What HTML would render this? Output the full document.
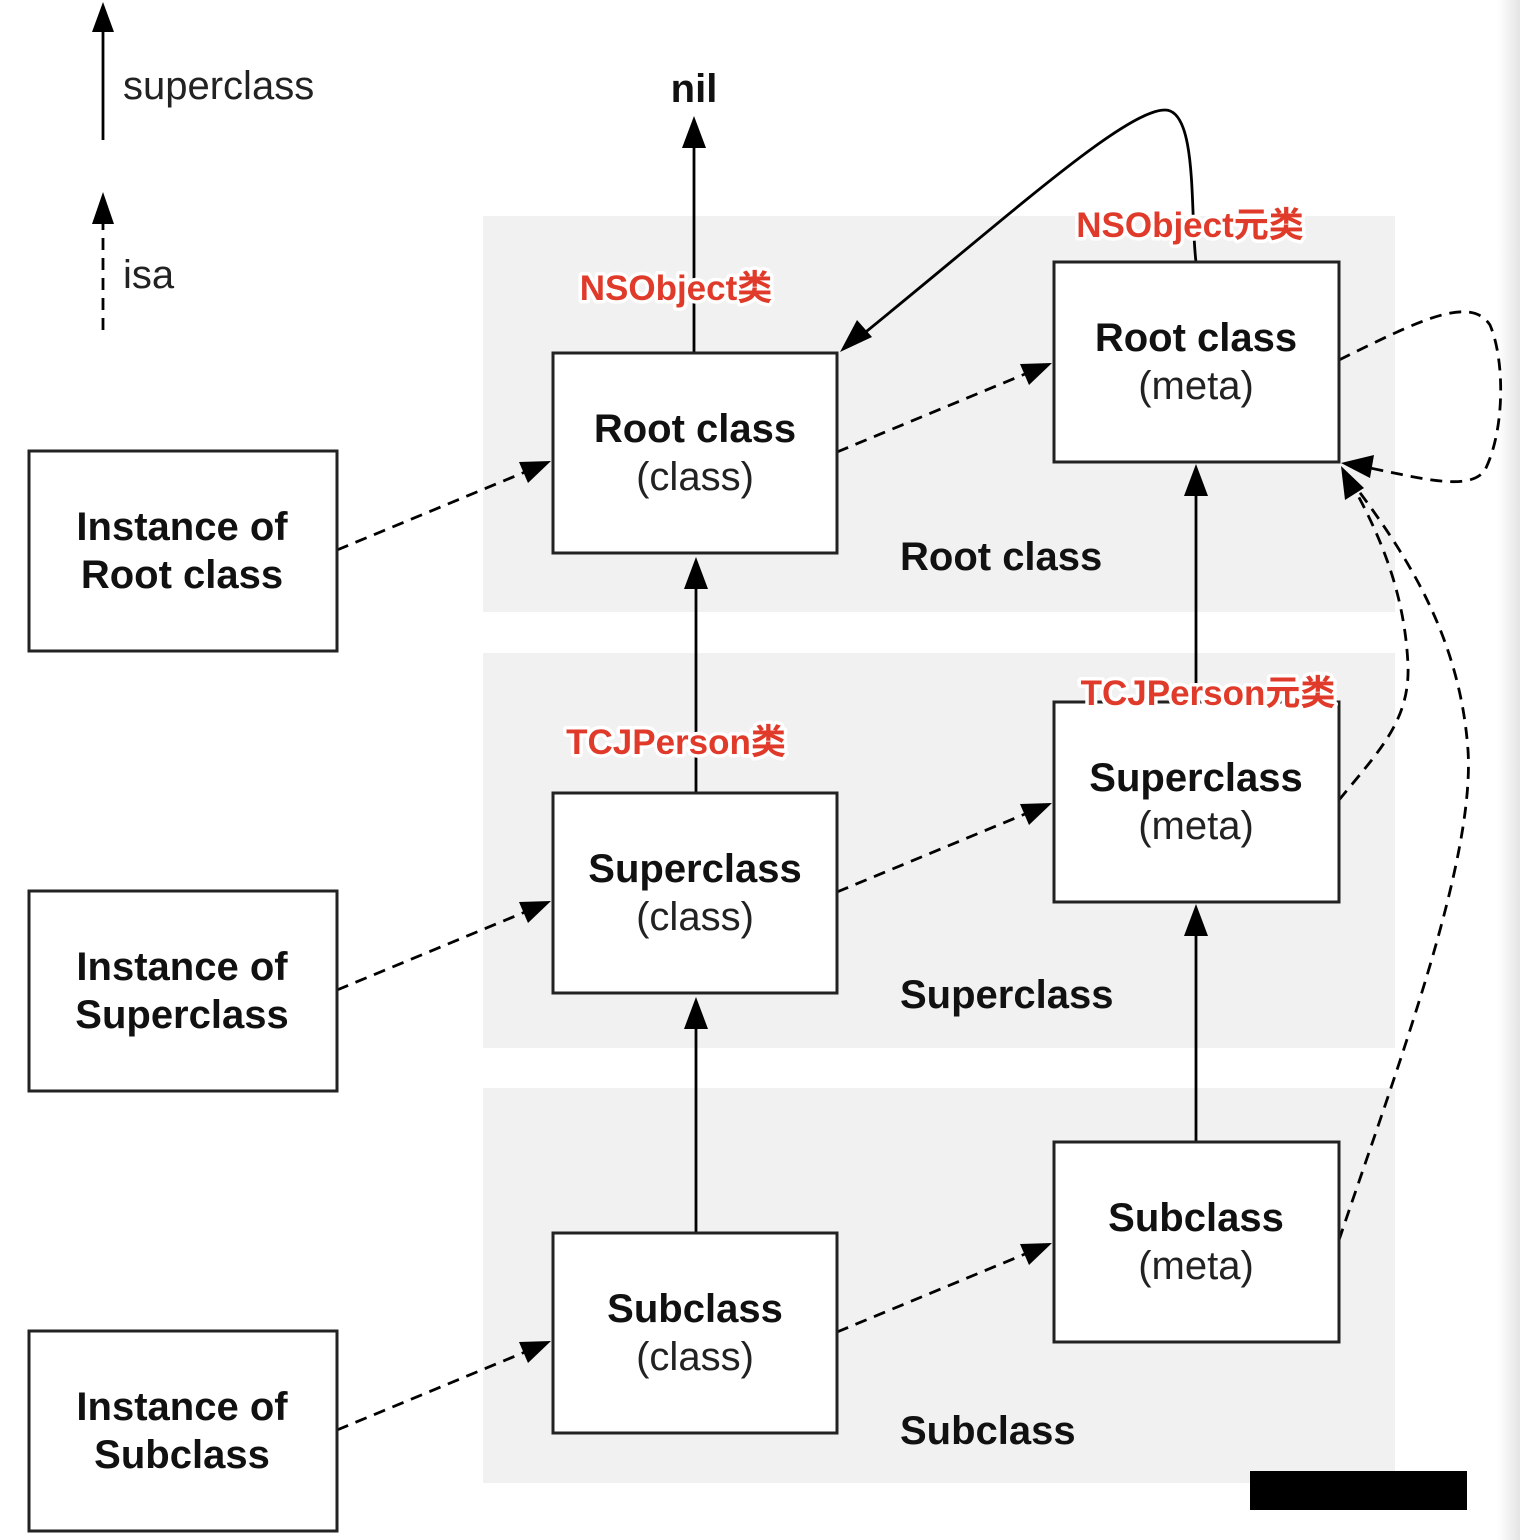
<!DOCTYPE html>
<html><head><meta charset="utf-8"><style>
html,body{margin:0;padding:0;background:#fff}
svg{display:block}
.t{font-family:"Liberation Sans",Arial,sans-serif;font-weight:bold;font-size:40px;fill:#111}
.s{font-family:"Liberation Sans",Arial,sans-serif;font-size:40px;fill:#222}
.r{font-family:"Liberation Sans","Noto Sans CJK SC",sans-serif;font-weight:bold;font-size:35px;fill:#e03a2a;stroke:#fff;stroke-width:7px;paint-order:stroke;stroke-linejoin:round}
</style></head><body>
<svg width="1520" height="1540" viewBox="0 0 1520 1540" xmlns="http://www.w3.org/2000/svg">
<defs>
<linearGradient id="sh" x1="0" x2="1"><stop offset="0" stop-color="#fff"/><stop offset="1" stop-color="#e4e4e4"/></linearGradient>
</defs>
<rect x="1498" y="0" width="22" height="1540" fill="url(#sh)"/>
<rect x="483" y="216" width="912" height="396" fill="#f1f1f1"/>
<rect x="483" y="653" width="912" height="395" fill="#f1f1f1"/>
<rect x="483" y="1088" width="912" height="395" fill="#f1f1f1"/>
<g stroke="#000" stroke-width="2.8" fill="none">
<line x1="103" y1="140" x2="103" y2="12"/>
<line x1="103" y1="330" x2="103" y2="220" stroke-dasharray="12,8"/>
<line x1="694" y1="353" x2="694" y2="145"/>
<line x1="696" y1="793" x2="696" y2="585"/>
<line x1="696" y1="1233" x2="696" y2="1025"/>
<line x1="1196" y1="702" x2="1196" y2="493"/>
<line x1="1196" y1="1142" x2="1196" y2="933"/>
<path d="M1196,262 C1190,215 1198,110 1165,110 C1125,110 1010,215 862,335"/>
<g stroke-dasharray="12,8">
<line x1="337" y1="550" x2="525" y2="472"/>
<line x1="337" y1="990" x2="525" y2="912"/>
<line x1="337" y1="1430" x2="525" y2="1352"/>
<line x1="837" y1="452" x2="1025" y2="374"/>
<line x1="837" y1="892" x2="1025" y2="814"/>
<line x1="837" y1="1332" x2="1025" y2="1254"/>
<path d="M1339,360 C1420,320 1470,295 1490,325 C1505,360 1505,430 1485,470 C1470,492 1420,478 1370,468"/>
<path d="M1339,800 C1380,750 1410,720 1408,665 C1405,600 1385,545 1355,490"/>
<path d="M1339,1240 C1400,1060 1475,860 1468,750 C1460,640 1410,560 1358,490"/>
</g>
</g>
<g fill="#000">
<path d="M103,2 L92,32 L114,32 z"/>
<path d="M103,192 L92,224 L114,224 z"/>
<path d="M694,116 L682,148 L706,148 z"/>
<path d="M696,557 L684,589 L708,589 z"/>
<path d="M696,997 L684,1029 L708,1029 z"/>
<path d="M1196,464 L1184,496 L1208,496 z"/>
<path d="M1196,904 L1184,936 L1208,936 z"/>
<path d="M551,461 L519,462 L528,483 z"/>
<path d="M551,901 L519,902 L528,923 z"/>
<path d="M551,1341 L519,1342 L528,1363 z"/>
<path d="M1052,363 L1020,364 L1029,385 z"/>
<path d="M1052,803 L1020,804 L1029,825 z"/>
<path d="M1052,1243 L1020,1244 L1029,1265 z"/>
<path d="M840,352 L872,337 L857,320 z"/>
<path d="M1341,463 L1374,455 L1370,478 z"/>
<path d="M1341,466 L1345,500 L1364,488 z"/>
</g>
<g fill="#fff" stroke="#222" stroke-width="3">
<rect x="29" y="451" width="308" height="200"/>
<rect x="29" y="891" width="308" height="200"/>
<rect x="29" y="1331" width="308" height="200"/>
<rect x="553" y="353" width="284" height="200"/>
<rect x="553" y="793" width="284" height="200"/>
<rect x="553" y="1233" width="284" height="200"/>
<rect x="1054" y="262" width="285" height="200"/>
<rect x="1054" y="702" width="285" height="200"/>
<rect x="1054" y="1142" width="285" height="200"/>
</g>
<g text-anchor="middle">
<text class="t" x="182" y="540">Instance of</text><text class="t" x="182" y="588">Root class</text>
<text class="t" x="182" y="980">Instance of</text><text class="t" x="182" y="1028">Superclass</text>
<text class="t" x="182" y="1420">Instance of</text><text class="t" x="182" y="1468">Subclass</text>
<text class="t" x="695" y="442">Root class</text><text class="s" x="695" y="490">(class)</text>
<text class="t" x="695" y="882">Superclass</text><text class="s" x="695" y="930">(class)</text>
<text class="t" x="695" y="1322">Subclass</text><text class="s" x="695" y="1370">(class)</text>
<text class="t" x="1196" y="351">Root class</text><text class="s" x="1196" y="399">(meta)</text>
<text class="t" x="1196" y="791">Superclass</text><text class="s" x="1196" y="839">(meta)</text>
<text class="t" x="1196" y="1231">Subclass</text><text class="s" x="1196" y="1279">(meta)</text>
<text class="t" x="694" y="102">nil</text>
<text class="r" x="676" y="300">NSObject类</text>
<text class="r" x="1190" y="237">NSObject元类</text>
<text class="r" x="676" y="754">TCJPerson类</text>
<text class="r" x="1208" y="705">TCJPerson元类</text>
</g>
<text class="t" x="900" y="570">Root class</text>
<text class="t" x="900" y="1008">Superclass</text>
<text class="t" x="900" y="1444">Subclass</text>
<text class="s" x="123" y="99">superclass</text>
<text class="s" x="123" y="288">isa</text>
<rect x="1250" y="1471" width="217" height="39" fill="#000"/>
</svg>
</body></html>
